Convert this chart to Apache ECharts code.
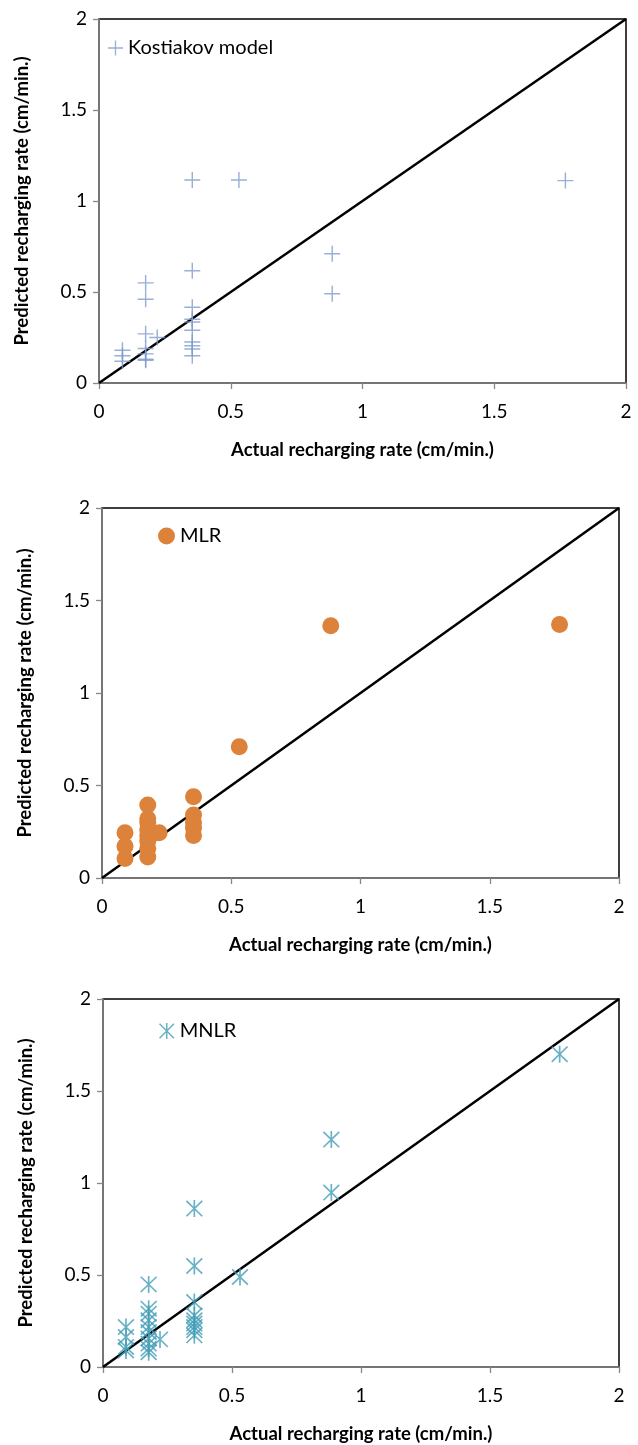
<!DOCTYPE html>
<html>
<head>
<meta charset="utf-8">
<script src="https://cdn.jsdelivr.net/npm/echarts@6/dist/echarts.min.js"></script>
<style>
  html, body { margin: 0; padding: 0; background: #fff; }
  #chart { width: 638px; height: 1445px; }
</style>
</head>
<body>
<div id="chart"></div>
<script>
// actual vs predicted recharging rate (cm/min.)
const kostActual = [0.089, 0.089, 0.089, 0.177, 0.177, 0.177, 0.177, 0.177, 0.177, 0.177, 0.221,
  0.354, 0.354, 0.354, 0.354, 0.354, 0.354, 0.354, 0.354, 0.354, 0.354, 0.531, 0.885, 0.885, 1.77]
const kostPred = [0.18, 0.15, 0.12, 0.55, 0.46, 0.27, 0.19, 0.16, 0.13, 0.125, 0.25,
  1.115, 0.617, 0.416, 0.35, 0.335, 0.29, 0.225, 0.205, 0.187, 0.15, 1.115, 0.71, 0.49, 1.112]

const mlrActual = [0.089, 0.089, 0.089, 0.177, 0.177, 0.177, 0.177, 0.177, 0.177, 0.177, 0.177, 0.221,
  0.354, 0.354, 0.354, 0.354, 0.354, 0.531, 0.885, 1.77]
const mlrPred = [0.244, 0.172, 0.105, 0.394, 0.32, 0.30, 0.26, 0.23, 0.20, 0.16, 0.114, 0.244,
  0.439, 0.34, 0.30, 0.27, 0.23, 0.709, 1.363, 1.37]

const mnlrActual = [0.089, 0.089, 0.089, 0.089, 0.177, 0.177, 0.177, 0.177, 0.177, 0.177, 0.177, 0.177, 0.177, 0.177,
  0.221, 0.354, 0.354, 0.354, 0.354, 0.354, 0.354, 0.354, 0.354, 0.354, 0.531, 0.885, 0.885, 1.77]
const mnlrPred = [0.217, 0.163, 0.109, 0.09, 0.449, 0.317, 0.29, 0.254, 0.217, 0.19, 0.155, 0.127, 0.10, 0.08,
  0.15, 0.861, 0.549, 0.353, 0.28, 0.254, 0.236, 0.217, 0.20, 0.172, 0.489, 1.236, 0.948, 1.70]

const seriesNames = ['Kostiakov model', 'MLR', 'MNLR']
const axisTicks = [0, 0.5, 1, 1.5, 2]
const xTitle = 'Actual recharging rate (cm/min.)'
const yTitle = 'Predicted recharging rate (cm/min.)'

const pairs = (xs, ys) => xs.map((x, i) => [x, ys[i]])

// thin strokes as filled bars so the path symbol looks like a line glyph
const strokePath = (segs, w) => {
  let d = ''
  segs.forEach(([x1, y1, x2, y2]) => {
    const len = Math.hypot(x2 - x1, y2 - y1)
    const nx = -(y2 - y1) / len * w / 2, ny = (x2 - x1) / len * w / 2
    d += `M${x1 + nx},${y1 + ny} L${x2 + nx},${y2 + ny} L${x2 - nx},${y2 - ny} L${x1 - nx},${y1 - ny} Z `
  })
  return 'path://' + d
}
const plusSym = strokePath([[-10, 0, 10, 0], [0, -10, 0, 10]], 1.8)
const starSym = strokePath([[0, -10, 0, 10], [-9, -9, 9, 9], [-9, 9, 9, -9]], 1.9)

const font = 'Lato, "Open Sans", sans-serif'
const grids = [
  {left: 99, top: 19, width: 527, height: 364},
  {left: 102, top: 508, width: 517, height: 370},
  {left: 103, top: 999, width: 516, height: 368}
]

const mkAxis = (idx, isX) => ({
  gridIndex: idx,
  type: 'value',
  min: 0, max: 2, interval: 0.5,
  name: isX ? xTitle : yTitle,
  nameLocation: 'middle',
  nameGap: isX ? 58 : 67,
  nameTextStyle: {fontFamily: font, fontWeight: 'bold', fontSize: 18.5, color: '#000'},
  axisLine: {show: true, lineStyle: {color: '#888', width: 1.5}},
  axisTick: {show: true, inside: false, length: 6, lineStyle: {color: '#888', width: 1.3}},
  axisLabel: {fontFamily: font, fontSize: 19, color: '#000', margin: isX ? 19 : 12,
    formatter: v => axisTicks.includes(v) ? String(v) : ''},
  splitLine: {show: false}
})

const diag = idx => ({
  type: 'line', xAxisIndex: idx, yAxisIndex: idx,
  data: [[0, 0], [2, 2]], symbol: 'none', silent: true,
  lineStyle: {color: '#000', width: 2.5}, z: 3
})

const legendText = {fontFamily: font, fontSize: 20, color: '#000'}

const option = {
  animation: false,
  grid: grids.map(g => ({...g, show: true, borderColor: '#000', borderWidth: 1.5})),
  xAxis: [0, 1, 2].map(i => mkAxis(i, true)),
  yAxis: [0, 1, 2].map(i => mkAxis(i, false)),
  legend: [
    {data: [seriesNames[0]], left: 103, top: 33, itemWidth: 15, itemHeight: 15, itemGap: 4, textStyle: legendText},
    {data: [seriesNames[1]], left: 153, top: 521, itemWidth: 17, itemHeight: 17, itemGap: 4, textStyle: legendText},
    {data: [seriesNames[2]], left: 154, top: 1016, itemWidth: 16, itemHeight: 16, itemGap: 4, textStyle: legendText}
  ],
  series: [
    diag(0), diag(1), diag(2),
    {
      name: seriesNames[0], type: 'scatter', xAxisIndex: 0, yAxisIndex: 0,
      data: pairs(kostActual, kostPred), symbol: plusSym, symbolSize: 16,
      itemStyle: {color: '#7f9bcc'}, z: 4
    },
    {
      name: seriesNames[1], type: 'scatter', xAxisIndex: 1, yAxisIndex: 1,
      data: pairs(mlrActual, mlrPred), symbol: 'circle', symbolSize: 17,
      itemStyle: {color: '#dc823a', opacity: 1}, z: 4
    },
    {
      name: seriesNames[2], type: 'scatter', xAxisIndex: 2, yAxisIndex: 2,
      data: pairs(mnlrActual, mnlrPred), symbol: starSym, symbolSize: 17,
      itemStyle: {color: '#439db7'}, z: 4
    }
  ]
}

const chart = echarts.init(document.getElementById('chart'))
chart.setOption(option)
</script>
</body>
</html>
